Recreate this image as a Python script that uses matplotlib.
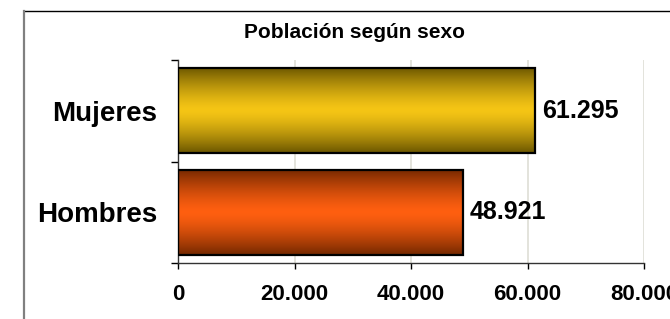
import numpy as np
import matplotlib.pyplot as plt
from matplotlib.colors import LinearSegmentedColormap
from matplotlib.lines import Line2D
from matplotlib.ticker import FuncFormatter

plt.rcParams['font.family'] = ['Liberation Sans', 'DejaVu Sans']
plt.rcParams['font.weight'] = 'bold'

categorias = ["Hombres", "Mujeres"]
poblacion = [48921, 61295]
etiquetas = ["48.921", "61.295"]
titulo = "Población según sexo"
# (borde oscuro, centro claro) del degradado de cada barra
colores = [("#742800", "#FF5F10"), ("#6B5600", "#F5C515")]

fig = plt.figure(figsize=(6.7, 3.19), dpi=100)
ax = fig.add_axes([178 / 670, 1 - 263 / 319, (644 - 178) / 670, (263 - 60) / 319])

# marco exterior del gráfico (sólo se ven el borde superior y el izquierdo)
x_marco, y_marco = 23.5 / 670, 1 - 10.5 / 319
fig.add_artist(Line2D([x_marco, 1.0], [y_marco, y_marco], transform=fig.transFigure,
                      color="black", linewidth=1.0))
fig.add_artist(Line2D([x_marco, x_marco], [0.0, y_marco], transform=fig.transFigure,
                      color="#808080", linewidth=1.6))

y = np.arange(len(categorias))
bars = ax.barh(y, poblacion, height=0.84, color="none", edgecolor="black",
               linewidth=1.6, zorder=3)

grad = np.abs(np.linspace(-1, 1, 256))[:, None] ** 1.4
for bar, (oscuro, claro) in zip(bars, colores):
    cmap = LinearSegmentedColormap.from_list("g", [claro, oscuro])
    x0, y0 = bar.get_x(), bar.get_y()
    im = ax.imshow(grad, cmap=cmap, aspect="auto", zorder=2,
                   extent=[x0, x0 + bar.get_width(), y0, y0 + bar.get_height()])
    im.set_clip_path(bar)

for bar, txt in zip(bars, etiquetas):
    ax.annotate(txt, (bar.get_width(), bar.get_y() + bar.get_height() / 2),
                xytext=(5, 0), textcoords="offset points",
                ha="left", va="center", fontsize=18, fontweight="bold")

ax.set_xlim(0, 80000)
ax.set_ylim(-0.5, 1.5)
ax.set_xticks([0, 20000, 40000, 60000, 80000])
ax.xaxis.set_major_formatter(FuncFormatter(lambda v, p: f"{int(v):,}".replace(",", ".")))
ax.set_yticks([-0.5, 0.5, 1.5])
ax.set_yticklabels([])
ax.set_yticks(y, minor=True)
ax.set_yticklabels(categorias, minor=True, fontsize=20, fontweight="bold")
ax.tick_params(axis="y", which="minor", length=0, pad=15)
ax.tick_params(axis="y", which="major", length=5, width=1, direction="out")
ax.tick_params(axis="x", length=4, width=1, direction="out", pad=11, labelsize=16)
for lab in ax.get_xticklabels():
    lab.set_fontweight("bold")

ax.grid(axis="x", color="#DEDED6", linewidth=1.2, zorder=0)
ax.set_axisbelow(True)
for s in ["top", "right"]:
    ax.spines[s].set_visible(False)
for s in ["left", "bottom"]:
    ax.spines[s].set_color("#333333")
    ax.spines[s].set_linewidth(1.0)
ax.set_facecolor("white")

fig.text(354 / 670, 1 - 33 / 319, titulo, ha="center", va="center",
         fontsize=15, fontweight="bold")

fig.savefig("out.png", dpi=100)
